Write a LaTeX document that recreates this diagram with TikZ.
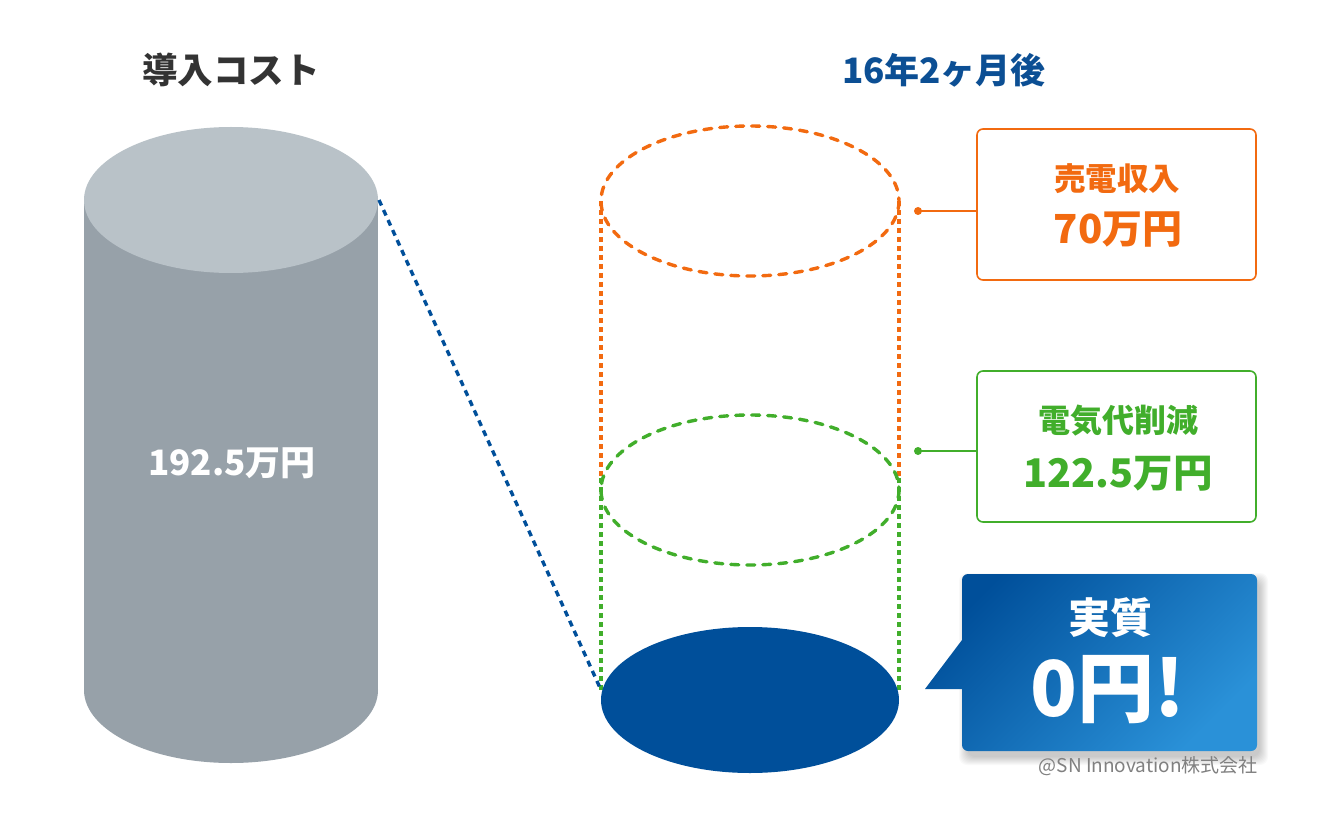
\documentclass[tikz,border=0pt]{standalone}
\usepackage{fontspec}
\setmainfont{Noto Sans CJK JP}
\usetikzlibrary{shadows}
\definecolor{gtop}{HTML}{B9C2C8}
\definecolor{gbody}{HTML}{97A1A9}
\definecolor{dtext}{HTML}{333333}
\definecolor{navy}{HTML}{004F9A}
\definecolor{tblue}{HTML}{0C4F94}
\definecolor{orng}{HTML}{F26A10}
\definecolor{grn}{HTML}{41AE2B}
\definecolor{blight}{HTML}{2A91D8}
\definecolor{credit}{HTML}{808080}
\tikzset{
  fs/.style={font=\fontsize{#1}{#1}\selectfont\bfseries, inner sep=0pt},
  ringdash/.style={line width=3.4pt, dash pattern=on 8pt off 8pt, line cap=round},
  sidedash/.style={line width=3.4pt, dash pattern=on 5pt off 4pt},
  infobox/.style={draw=#1, line width=1.6pt, rounded corners=6pt, minimum width=279pt, minimum height=151pt, inner sep=0pt},
}
\begin{document}
\begin{tikzpicture}[x=1pt,y=-1pt]
\useasboundingbox (0,0) rectangle (1330,826);
\fill[white] (0,0) rectangle (1330,826);
% titles
\node[fs=35.5, text=dtext] (t1) at (231,70) {導入コスト};
\node[fs=35, text=tblue] (t2) at (944,70) {16年2ヶ月後};
% gray cylinder
\fill[gbody] (84,200) rectangle (378,690);
\fill[gbody] (231,690) ellipse [x radius=147, y radius=73];
\fill[gtop] (231,200) ellipse [x radius=147, y radius=73];
\node[fs=35, text=white] (cost) at (232,463) {192.5万円};
\coordinate (gtr) at (379,200);
% dashed cylinder
\draw[orng, ringdash] (750,201) ellipse [x radius=149, y radius=75];
\draw[orng, sidedash] (601,201) -- (601,478);
\draw[orng, sidedash] (899,201) -- (899,478);
\draw[grn, sidedash] (601,478) -- (601,691);
\draw[grn, sidedash] (899,478) -- (899,691);
\draw[grn, ringdash] (750,490) ellipse [x radius=149, y radius=75];
\fill[navy] (750,700) ellipse [x radius=149, y radius=73];
\coordinate (bl) at (601,690);
\draw[navy, line width=3.4pt, dash pattern=on 6pt off 5pt] (gtr) -- (bl);
% orange box
\node[infobox=orng] (sbox) at (1116.5,204.5) {};
\node[fs=31.5, text=orng] (s1) at (1117,179) {売電収入};
\node[fs=40, text=orng] (s2) at (1118,230) {70万円};
\fill[orng] (918,211) circle (4) coordinate (sdot);
\draw[orng, line width=1.6pt] (sdot) -- (sbox.west |- sdot);
% green box
\node[infobox=grn] (ebox) at (1116.5,446.5) {};
\node[fs=32, text=grn] (e1) at (1118,421) {電気代削減};
\node[fs=39.5, text=grn] (e2) at (1118,474) {122.5万円};
\fill[grn] (918,451) circle (4) coordinate (edot);
\draw[grn, line width=1.6pt] (edot) -- (ebox.west |- edot);
% callout shadow
\foreach \i in {1,...,9}
  \fill[black, opacity=0.022, rounded corners=8pt] (968-\i,582-\i) rectangle (1259+\i,756+\i);
% callout
\path[top color=navy, bottom color=blight, shading angle=45]
  [rounded corners=6pt] (962,640) -- (962,574) -- (1257,574) -- (1257,751) -- (962,751)
  [sharp corners] -- (962,689) -- (925,689) -- cycle;
\node[fs=42, text=white] (c1) at (1110,618) {実質};
\node[fs=77, text=white] (c2) at (1108,690) {0円!};
\node[font=\fontsize{19}{19}\selectfont, text=credit, anchor=east, inner sep=0pt] (cr) at (1258,766) {@SN Innovation株式会社};
\end{tikzpicture}
\end{document}
